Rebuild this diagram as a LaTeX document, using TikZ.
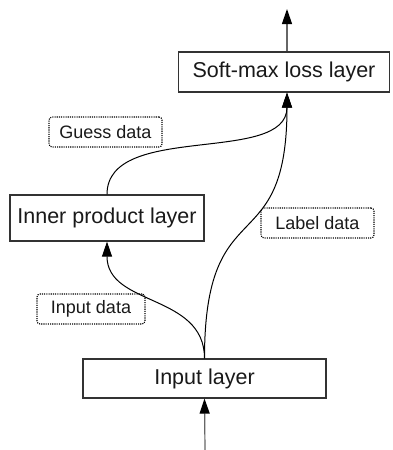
\documentclass[tikz,border=0pt]{standalone}
\usepackage{fontspec}
\setmainfont{Liberation Sans}
\usetikzlibrary{arrows.meta}

\tikzset{
  layerbox/.style={draw=black!80, line width=0.6pt, fill=white, inner sep=0pt,
    font=\fontsize{10.75}{12}\selectfont, text=black!90},
  databox/.style={draw=black, dash pattern=on 0.55pt off 0.55pt, line width=0.55pt,
    rounded corners=1.5pt, inner sep=0pt, minimum height=15pt,
    font=\fontsize{9}{11}\selectfont, text=black!90},
  flow/.style={line width=0.5pt, -{Triangle[length=7.5pt,width=5pt,color=black]}},
  feed/.style={flow, draw=black!60, line width=0.6pt},
}

\begin{document}
\begin{tikzpicture}[x=0.5pt, y=-0.5pt]
  \useasboundingbox (0,0) rectangle (392,450);

  % layers
  \node[layerbox, minimum width=105.5pt, minimum height=20pt] (sm) at (284,72) {Soft-max loss layer};
  \node[layerbox, minimum width=97pt, minimum height=23pt] (ip) at (107,218) {Inner product layer};
  \node[layerbox, minimum width=121.5pt, minimum height=19.5pt] (in) at (204.5,378.5) {Input layer};

  % data labels
  \node[databox, minimum width=56.5pt] (guess) at (105.5,132) {Guess data};
  \node[databox, minimum width=54pt] (idata) at (91,309) {Input data};
  \node[databox, minimum width=56.5pt] (ldata) at (317.5,223) {Label data};

  % free ends of the outer arrows
  \coordinate (out) at (287,9);
  \coordinate (src) at (205,450);

  % external input and output
  \draw[feed] (src) -- (in.south);
  \draw[feed] (sm.north -| out) -- (out);

  % data flow between layers
  \draw[flow] (in.north) .. controls +(0,-65) and +(0,65) .. (ip.south);
  \draw[flow] (ip.north) .. controls +(0,-73) and +(0,73) .. (sm.south -| out);
  \draw[flow] (in.north) .. controls +(0,-172) and +(0,172) .. (sm.south -| out);
\end{tikzpicture}
\end{document}
